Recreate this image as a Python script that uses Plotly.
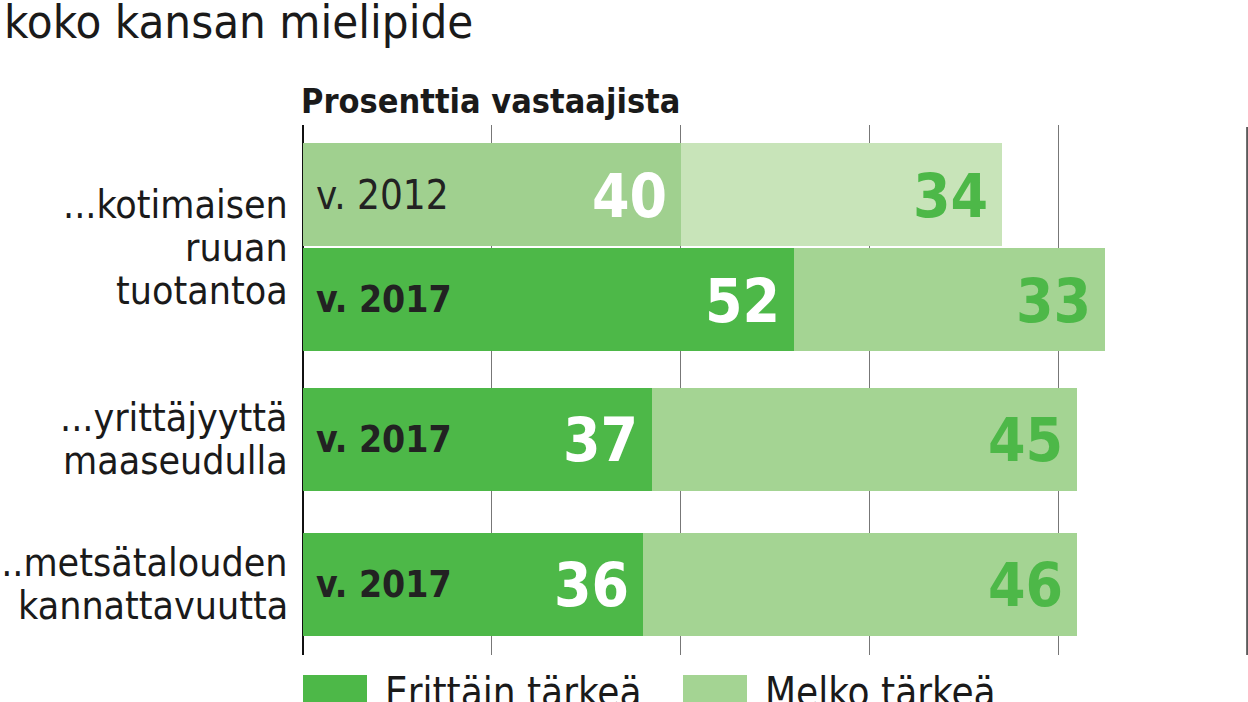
import plotly.graph_objs as go

# ---------- Data ----------

years = ["v. 2012", "v. 2017", "v. 2017", "v. 2017"]
erittain = [40, 52, 37, 36]
melko = [34, 33, 45, 46]

groups = [
    ["...kotimaisen", "ruuan", "tuotantoa"],
    ["...yrittäjyyttä", "maaseudulla"],
    ["...metsätalouden", "kannattavuutta"],
]
group_rows = [[0, 1], [2], [3]]

title = "koko kansan mielipide"
subtitle = "Prosenttia vastaajista"
legend_names = ["Erittäin tärkeä", "Melko tärkeä"]

# ---------- Layout constants ----------

ROW_POS = [0, 1, 2.333, 3.714]
BAR_W = 0.98
W, H = 1248, 702
M_L, M_R, M_T, M_B = 303, 0, 125, 47
PLOT_W = W - M_L - M_R
PLOT_H = H - M_T - M_B

DARK = "#4db848"
LIGHT = "#a4d493"
PALE = "#c8e4b9"
OLD_DARK = "#a0d08f"

FONT = "DejaVu Sans Condensed, Liberation Sans Narrow, sans-serif"


def px_y(p):
    # pixel row from top of page -> paper y
    return (H - M_B - p) / PLOT_H


def px_x(p):
    # pixel column from left of page -> paper x
    return (p - M_L) / PLOT_W


dark_cols = [OLD_DARK if y == "v. 2012" else DARK for y in years]
light_cols = [PALE if y == "v. 2012" else LIGHT for y in years]

fig = go.Figure()
fig.add_trace(go.Bar(
    y=ROW_POS, x=erittain, orientation="h", width=BAR_W,
    marker=dict(color=dark_cols, line=dict(width=0)),
    hoverinfo="x", name=legend_names[0]))
fig.add_trace(go.Bar(
    y=ROW_POS, x=melko, orientation="h", width=BAR_W,
    marker=dict(color=light_cols, line=dict(width=0)),
    hoverinfo="x", name=legend_names[1]))

ann = []
for i, yv in enumerate(ROW_POS):
    old = years[i] == "v. 2012"
    ann.append(dict(
        x=0, y=yv, xref="x", yref="y",
        text=years[i] if old else f"<b>{years[i]}</b>",
        showarrow=False, xanchor="left", yanchor="middle", xshift=11,
        font=dict(family=FONT, size=40 if old else 37, color="#222222")))
    ann.append(dict(
        x=erittain[i], y=yv, xref="x", yref="y", text=f"<b>{erittain[i]}</b>",
        showarrow=False, xanchor="right", yanchor="middle", xshift=-12, yshift=-1,
        font=dict(family=FONT, size=60, color="white")))
    ann.append(dict(
        x=erittain[i] + melko[i], y=yv, xref="x", yref="y", text=f"<b>{melko[i]}</b>",
        showarrow=False, xanchor="right", yanchor="middle", xshift=-12, yshift=-1,
        font=dict(family=FONT, size=60, color=DARK)))

# category labels, one annotation per line for tight line spacing
for lines, rows in zip(groups, group_rows):
    yc = sum(ROW_POS[r] for r in rows) / len(rows)
    n = len(lines)
    for k, line in enumerate(lines):
        ann.append(dict(
            x=0, y=yc, xref="paper", yref="y", text=line, showarrow=False,
            xanchor="right", yanchor="middle", xshift=-13,
            yshift=((n - 1) / 2 - k) * 43,
            font=dict(family=FONT, size=39, color="#1a1a1a")))

ann.append(dict(
    x=px_x(2), y=px_y(22), xref="paper", yref="paper", text=title, showarrow=False,
    xanchor="left", yanchor="middle",
    font=dict(family=FONT, size=47, color="#1a1a1a")))
ann.append(dict(
    x=0, y=px_y(101), xref="paper", yref="paper", text=f"<b>{subtitle}</b>",
    showarrow=False, xanchor="left", yanchor="middle", xshift=-4,
    font=dict(family=FONT, size=34, color="#1a1a1a")))

shapes = []

# closing line at 100 %
shapes.append(dict(
    type="line", xref="x", yref="paper", x0=100, x1=100, y0=0, y1=px_y(127),
    line=dict(color="#333333", width=1.5), layer="below"))

# legend drawn by hand so the swatches can be large
for name, col, lx in zip(legend_names, [DARK, LIGHT], [303, 683]):
    shapes.append(dict(
        type="rect", xref="paper", yref="paper",
        x0=px_x(lx), x1=px_x(lx + 64), y0=px_y(675), y1=px_y(730),
        fillcolor=col, line=dict(width=0)))
    ann.append(dict(
        x=px_x(lx + 80), y=px_y(667), xref="paper", yref="paper",
        text=name, showarrow=False, xanchor="left", yanchor="top",
        font=dict(family=FONT, size=40, color="#1a1a1a")))

fig.update_layout(
    width=W, height=H,
    margin=dict(l=M_L, r=M_R, t=M_T, b=M_B, pad=0),
    paper_bgcolor="white", plot_bgcolor="white",
    barmode="stack", bargap=0,
    annotations=ann, shapes=shapes,
    xaxis=dict(range=[0, 100.1], dtick=20, showgrid=True, gridcolor="#777777",
               gridwidth=1, showticklabels=False, zeroline=True,
               zerolinecolor="#111111", zerolinewidth=1.5, fixedrange=True),
    yaxis=dict(range=[4.386, -0.662], showgrid=False, showticklabels=False,
               zeroline=False, fixedrange=True),
    showlegend=False,
)

fig.write_html("out.html", config={"displayModeBar": False},
               post_script="document.body.style.margin='0';")
